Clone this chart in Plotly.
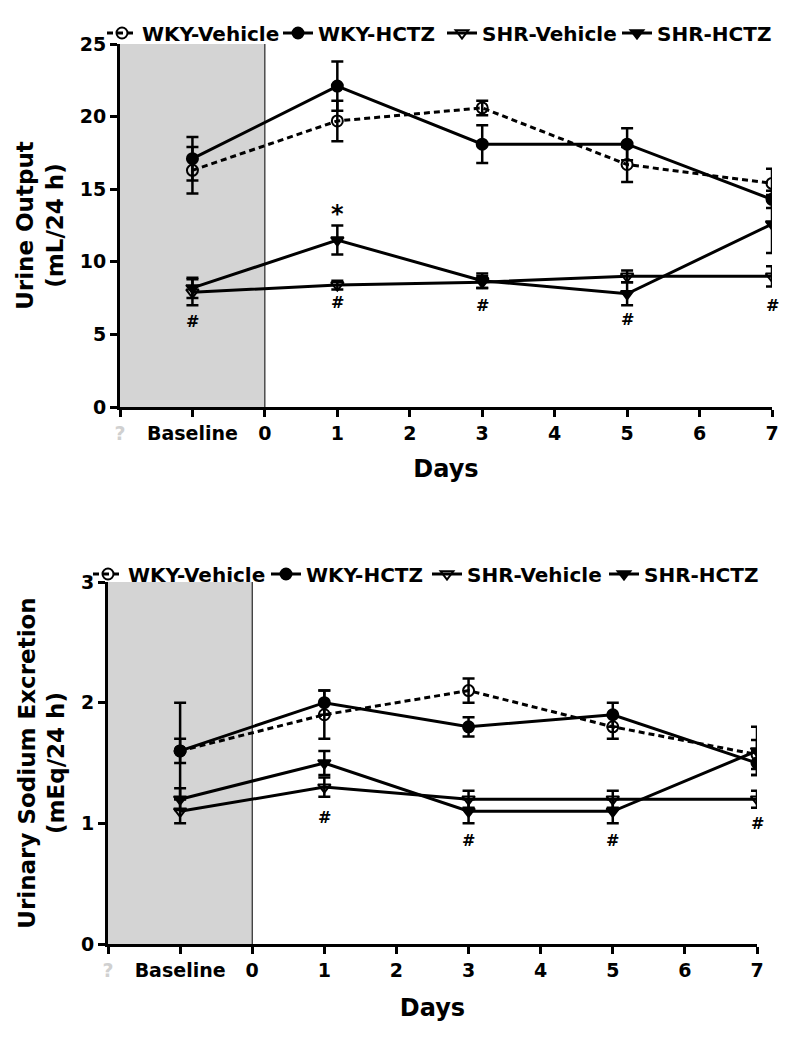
import plotly.graph_objects as go

# ---------------- data ----------------
days = [-1, 1, 3, 5, 7]  # -1 = Baseline
tick_vals = [-2, -1, 0, 1, 2, 3, 4, 5, 6, 7]
tick_text = ['<span style="color:#d0d0d0">?</span>', 'Baseline', '0', '1', '2', '3', '4', '5', '6', '7']
series_names = ['WKY-Vehicle', 'WKY-HCTZ', 'SHR-Vehicle', 'SHR-HCTZ']

# Urine output (mL/24 h)
uo_wky_veh = [16.3, 19.7, 20.6, 16.7, 15.4]
uo_wky_veh_err = [1.6, 1.4, 0.5, 1.2, 1.0]
uo_wky_hctz = [17.1, 22.1, 18.1, 18.1, 14.3]
uo_wky_hctz_err = [1.5, 1.7, 1.3, 1.1, 0.6]
uo_shr_veh = [7.9, 8.4, 8.6, 9.0, 9.0]
uo_shr_veh_err = [0.9, 0.3, 0.4, 0.4, 0.7]
uo_shr_hctz = [8.2, 11.5, 8.7, 7.8, 12.6]
uo_shr_hctz_err = [0.7, 1.0, 0.5, 0.8, 2.0]

# Urinary sodium excretion (mEq/24 h)
na_wky_veh = [1.6, 1.9, 2.1, 1.8, 1.57]
na_wky_veh_err = [0.1, 0.2, 0.1, 0.1, 0.12]
na_wky_hctz = [1.6, 2.0, 1.8, 1.9, 1.5]
na_wky_hctz_err = [0.4, 0.1, 0.08, 0.1, 0.1]
na_shr_veh = [1.1, 1.3, 1.2, 1.2, 1.2]
na_shr_veh_err = [0.1, 0.08, 0.07, 0.07, 0.07]
na_shr_hctz = [1.2, 1.5, 1.1, 1.1, 1.6]
na_shr_hctz_err = [0.09, 0.1, 0.1, 0.1, 0.2]

# significance markers
uo_star_x, uo_star_y = [1], [13.3]
uo_hash_x = [-1, 1, 3, 5, 7]
uo_hash_y = [5.9, 7.2, 7.0, 6.0, 7.0]
na_hash_x = [1, 3, 5, 7]
na_hash_y = [1.05, 0.86, 0.86, 1.0]

# ---------------- styling ----------------
FONT = "DejaVu Sans"
styles = [
    dict(symbol='circle-open', dash='dash'),
    dict(symbol='circle', dash='solid'),
    dict(symbol='triangle-down-open', dash='solid'),
    dict(symbol='triangle-down', dash='solid'),
]
top_legend_widths = [131, 119, 130, 110]
bottom_legend_widths = [133, 116, 132, 110]

fig = go.Figure()

def add_panel(vals, errs, xa, ya, legend, lwidths):
    for name, v, e, st, lw in zip(series_names, vals, errs, styles, lwidths):
        fig.add_trace(go.Scatter(
            x=days, y=v, name=name, mode='lines+markers',
            xaxis=xa, yaxis=ya, legend=legend, legendwidth=lw,
            line=dict(color='black', width=3, dash='6px,4px' if st['dash'] == 'dash' else 'solid'),
            marker=dict(symbol=st['symbol'], size=11, color='black',
                        line=dict(color='black', width=2)),
            error_y=dict(type='data', array=e, visible=True, color='black',
                         thickness=2.5, width=6),
        ))

add_panel([uo_wky_veh, uo_wky_hctz, uo_shr_veh, uo_shr_hctz],
          [uo_wky_veh_err, uo_wky_hctz_err, uo_shr_veh_err, uo_shr_hctz_err],
          'x', 'y', 'legend', top_legend_widths)
add_panel([na_wky_veh, na_wky_hctz, na_shr_veh, na_shr_hctz],
          [na_wky_veh_err, na_wky_hctz_err, na_shr_veh_err, na_shr_hctz_err],
          'x2', 'y2', 'legend2', bottom_legend_widths)

# page body has an 8px margin: figure is sized/offset to compensate
OFF = 8
W, H = 800 - 2 * OFF, 1039 - 2 * OFF
def fx(px):
    return (px - OFF) / W
def fy(py):
    return 1 - (py - OFF) / H

axis_common = dict(
    showgrid=False, zeroline=False, showline=True, linecolor='black', linewidth=3,
    ticks='outside', ticklen=7, tickwidth=3, tickcolor='black',
    tickfont=dict(family=FONT, size=19, color='black', weight='bold'),
)
legend_font = dict(family=FONT, size=20, weight='bold', color='black')

fig.update_layout(
    width=W, height=H, plot_bgcolor='white', paper_bgcolor='white',
    margin=dict(l=0, r=0, t=0, b=0, autoexpand=False),
    font=dict(family=FONT, color='black'),
    xaxis=dict(domain=[fx(120), fx(772)], range=[-2, 7], anchor='y',
               tickmode='array', tickvals=tick_vals, ticktext=tick_text,
               title=dict(text='Days', font=dict(size=24, weight='bold'), standoff=18),
               **axis_common),
    yaxis=dict(domain=[fy(407), fy(44)], range=[0, 25], anchor='x',
               tickvals=[0, 5, 10, 15, 20, 25],
               title=dict(text='Urine Output<br>(mL/24 h)', font=dict(size=23, weight='bold'), standoff=10),
               **axis_common),
    xaxis2=dict(domain=[fx(108), fx(757)], range=[-2, 7], anchor='y2',
                tickmode='array', tickvals=tick_vals, ticktext=tick_text,
                title=dict(text='Days', font=dict(size=24, weight='bold'), standoff=20),
                **axis_common),
    yaxis2=dict(domain=[fy(944), fy(582)], range=[0, 3], anchor='x2',
                tickvals=[0, 1, 2, 3],
                title=dict(text='Urinary Sodium Excretion<br>(mEq/24 h)', font=dict(size=23, weight='bold'), standoff=10),
                **axis_common),
    legend=dict(orientation='h', x=fx(102), y=fy(33), xanchor='left', yanchor='middle',
                bgcolor='rgba(0,0,0,0)', itemwidth=30, font=legend_font),
    legend2=dict(orientation='h', x=fx(88), y=fy(574), xanchor='left', yanchor='middle',
                 bgcolor='rgba(0,0,0,0)', itemwidth=30, font=legend_font),
)

# shaded baseline region and day-0 line
for xr, yr, ymax in [('x', 'y', 25), ('x2', 'y2', 3)]:
    fig.add_shape(type='rect', xref=xr, yref=yr, x0=-2, x1=0, y0=0, y1=ymax,
                  fillcolor='#d4d4d4', line=dict(width=0), layer='below')
    fig.add_shape(type='line', xref=xr, yref=yr, x0=0, x1=0, y0=0, y1=ymax,
                  line=dict(color='black', width=1), layer='below')

# significance annotations
for x, y in zip(uo_star_x, uo_star_y):
    fig.add_annotation(x=x, y=y, xref='x', yref='y', text='<b>*</b>', showarrow=False,
                       font=dict(family=FONT, size=24, color='black'))
for x, y in zip(uo_hash_x, uo_hash_y):
    fig.add_annotation(x=x, y=y, xref='x', yref='y', text='<b>#</b>', showarrow=False,
                       font=dict(family=FONT, size=16, color='black'))
for x, y in zip(na_hash_x, na_hash_y):
    fig.add_annotation(x=x, y=y, xref='x2', yref='y2', text='<b>#</b>', showarrow=False,
                       font=dict(family=FONT, size=16, color='black'))

fig.write_html("out.html")
